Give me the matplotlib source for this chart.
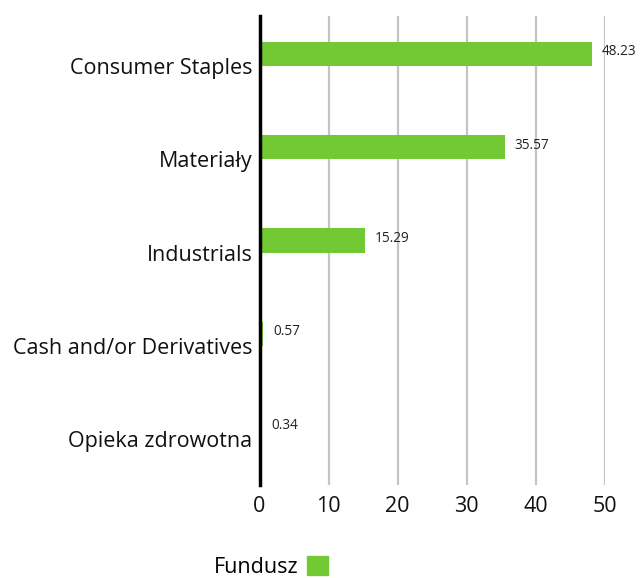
import matplotlib.pyplot as plt
from matplotlib.patches import Patch

categories = ['Consumer Staples', 'Materiały', 'Industrials', 'Cash and/or Derivatives', 'Opieka zdrowotna']
values = [48.23, 35.57, 15.29, 0.57, 0.34]
value_labels = ['48.23', '35.57', '15.29', '0.57', '0.34']
xticks = [0, 10, 20, 30, 40, 50]
series_name = 'Fundusz'

green = '#73C933'
plt.rcParams['font.family'] = ['Open Sans', 'DejaVu Sans']

fig = plt.figure(figsize=(6.41, 5.78), dpi=100)
ax = fig.add_axes([259.5 / 641, 1 - 485 / 578, (604.7 - 259.5) / 641, (485 - 16) / 578])

pos = list(range(len(categories)))
ax.barh([p - 0.13 for p in pos], values, height=0.26, color=green, zorder=3)

for p, v, lab in zip(pos, values, value_labels):
    ax.annotate(lab, (v, p - 0.15), xytext=(7, 0), textcoords='offset points',
                va='center', ha='left', fontsize=9.8, color='#222222', clip_on=False)

ax.set_xlim(0, 50)
ax.set_ylim(4.493, -0.536)
ax.set_yticks(pos)
ax.set_yticklabels(categories, fontsize=15.5, color='#111111')
ax.set_xticks(xticks)
ax.set_xticklabels([str(t) for t in xticks], fontsize=15.5, color='#111111')
ax.tick_params(axis='both', length=0)
ax.tick_params(axis='y', pad=5)
ax.tick_params(axis='x', pad=8)

for s in ['top', 'right', 'bottom']:
    ax.spines[s].set_visible(False)
ax.spines['left'].set_linewidth(2.5)
ax.spines['left'].set_color('black')
ax.spines['left'].set_zorder(4)

ax.grid(axis='x', color='#c4c4c4', linewidth=1.6, zorder=0)
ax.grid(axis='y', visible=False)
ax.set_axisbelow(True)

fig.legend(handles=[Patch(color=green, label=series_name)], loc='center',
           bbox_to_anchor=(271 / 641, 1 - 567 / 578), frameon=False,
           markerfirst=False, fontsize=15.5, handlelength=1.0, handleheight=1.0,
           handletextpad=0.4, borderpad=0)

fig.savefig('out.png', dpi=100)
